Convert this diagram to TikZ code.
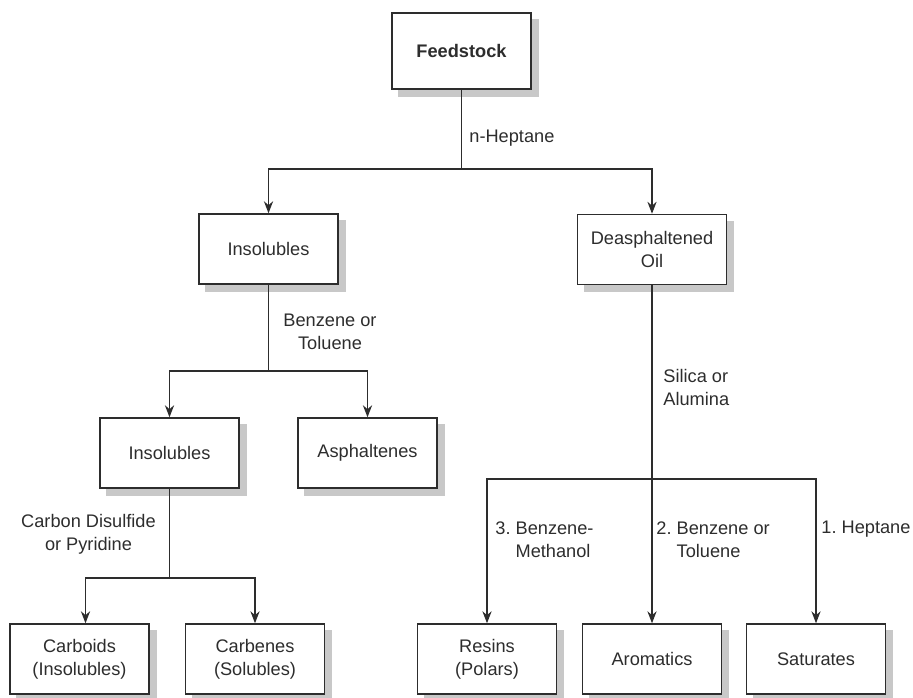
\documentclass[tikz,border=0pt]{standalone}
\usepackage{fontspec}
\setmainfont{Liberation Sans}
\usepackage{tikz}
\usetikzlibrary{arrows.meta,backgrounds}
\definecolor{Ink}{RGB}{45,45,45}
\definecolor{Shade}{RGB}{200,200,200}
\frenchspacing

\begin{document}
\begin{tikzpicture}[x=0.5pt,y=-0.5pt,
  font=\fontsize{9.1pt}{11.5pt}\selectfont, color=Ink,
  box/.style={draw=Ink,line width=0.75pt,fill=white,inner sep=0pt,
    minimum width=69.5pt,minimum height=35pt,align=center},
  lbl/.style={inner sep=0pt,text=Ink},
  link/.style={draw=Ink,line width=0.65pt},
  flow/.style={link,-{Stealth[length=6pt,width=4.6pt]}}]
\useasboundingbox (0,0) rectangle (913,697);
% boxes
\node[box,minimum height=38pt] (feed) at (461.5,51) {\bfseries Feedstock};
\node[box] (insA) at (268.5,249) {Insolubles};
\node[box,minimum width=74.5pt] (dao) at (652,249.5) {Deasphaltened\\Oil};
\node[box] (insB) at (169.5,453) {Insolubles};
\node[box] (asph) at (367.5,453) {Asphaltenes};
\node[box] (carboid) at (79.5,659) {Carboids\\(Insolubles)};
\node[box] (carbene) at (255,659) {Carbenes\\(Solubles)};
\node[box] (resin) at (487,659) {Resins\\(Polars)};
\node[box] (arom) at (652,659) {Aromatics};
\node[box] (sat) at (816,659) {Saturates};
% grey offset shadows
\begin{scope}[on background layer]
\foreach \b in {feed,insA,dao,insB,asph,carboid,carbene,resin,arom,sat}
  \fill[Shade] ([shift={(3.5pt,-3.5pt)}]\b.south west) rectangle ([shift={(3.5pt,-3.5pt)}]\b.north east);
\end{scope}
% junctions
\coordinate (jA) at (461.5,169);
\coordinate (jB) at (268.5,371);
\coordinate (jC) at (169.5,578);
\coordinate (jD) at (652,479);
% solvents
\node[lbl,anchor=west] (hept) at (469,138) {n-Heptane};
\node[lbl,align=center] (benz) at (330,331.5) {Benzene or\\Toluene};
\node[lbl,anchor=west,align=left] (sil) at (663,387.5) {Silica or\\Alumina};
\node[lbl,align=center] (cs2) at (88.5,534.5) {Carbon Disulfide\\or Pyridine};
\node[lbl,anchor=west,align=left] (s3) at (495,540) {3. Benzene-\\\hphantom{3.\ }Methanol};
\node[lbl,anchor=west,align=left] (s2) at (656,540) {2. Benzene or\\\hphantom{2.\ }Toluene};
\node[lbl,anchor=west] (s1) at (821,529.5) {1. Heptane};
% connectors
\draw[link] (feed) -- (jA);
\draw[flow] (jA) -| (insA);
\draw[flow] (jA) -| (dao);
\draw[link] (insA) -- (jB);
\draw[flow] (jB) -| (insB);
\draw[flow] (jB) -| (asph);
\draw[link] (insB) -- (jC);
\draw[flow] (jC) -| ([xshift=3pt]carboid.north);
\draw[flow] (jC) -| (carbene);
\draw[link] (dao) -- (jD);
\draw[flow] (jD) -| (resin);
\draw[flow] (jD) -- (arom);
\draw[flow] (jD) -| (sat);
\end{tikzpicture}
\end{document}
